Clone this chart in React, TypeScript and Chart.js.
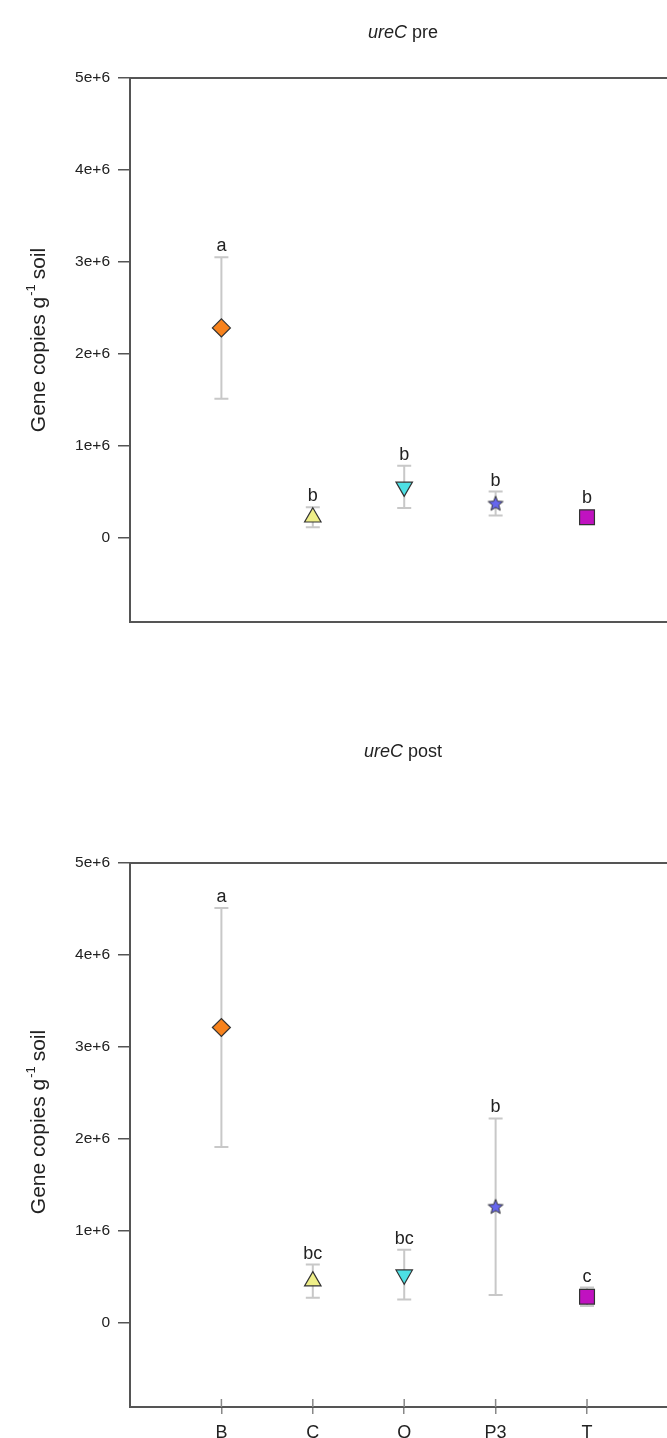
import React, { useEffect, useRef } from 'react';
import { Chart, registerables } from 'chart.js';
Chart.register(...registerables);

const categories = ['B', 'C', 'Q', 'P3', 'T'];
const preMeans = [2.28e6, 0.22e6, 0.55e6, 0.37e6, 0.22e6];
const preErrors = [0.77e6, 0.11e6, 0.23e6, 0.13e6, 0.02e6];
const preLetters = ['a', 'b', 'b', 'b', 'b'];
const postMeans = [3.21e6, 0.45e6, 0.52e6, 1.26e6, 0.28e6];
const postErrors = [1.3e6, 0.18e6, 0.27e6, 0.96e6, 0.1e6];
const postLetters = ['a', 'bc', 'bc', 'b', 'c'];
const yTickValues = [0, 1e6, 2e6, 3e6, 4e6, 5e6];
const yTickLabels = ['0', '1e+6', '2e+6', '3e+6', '4e+6', '5e+6'];
const markerStyles = ['rectRot', 'triangle', 'triangle', 'star', 'rect'];
const markerColors = ['#f7821c', '#eeee88', '#4de0e4', '#6666ee', '#c012c0'];
const markerRotations = [0, 0, 180, 0, 0];
const markerRadii = [9, 9.5, 9.5, 8, 10.5];

const FONT = '"Liberation Sans", Arial, sans-serif';
const Y_MIN = -0.92e6;
const Y_MAX = 5e6;
const X_MIN = -1;
const X_MAX = 4.875;

function makeStar(color: string) {
  const c = document.createElement('canvas');
  c.width = 18;
  c.height = 18;
  const g = c.getContext('2d')!;
  const cx = 9, cy = 9.5, ro = 7.8, ri = 3.4;
  g.beginPath();
  for (let k = 0; k < 10; k++) {
    const r = k % 2 === 0 ? ro : ri;
    const a = -Math.PI / 2 + (k * Math.PI) / 5;
    const px = cx + r * Math.cos(a);
    const py = cy + r * Math.sin(a);
    if (k === 0) g.moveTo(px, py);
    else g.lineTo(px, py);
  }
  g.closePath();
  g.fillStyle = color;
  g.fill();
  g.lineWidth = 1;
  g.strokeStyle = '#333';
  g.stroke();
  return c;
}

type PanelProps = {
  gene: string;
  phase: string;
  means: number[];
  errors: number[];
  letters: string[];
  showX: boolean;
  top: number;
  height: number;
  areaTop: number;
  areaBottom: number;
  titleY: number;
  axisTitleY: number;
};

function Panel(p: PanelProps) {
  const ref = useRef<HTMLCanvasElement>(null);
  useEffect(() => {
    const canvas = ref.current!;
    const star = makeStar(markerColors[3]);
    const styles: any[] = markerStyles.map((s) => (s === 'star' ? star : s));

    const decor = {
      id: 'decor',
      beforeDatasetsDraw(chart: any) {
        const { ctx, scales } = chart;
        const x = scales.x, y = scales.y;
        ctx.save();
        ctx.strokeStyle = '#c8c8c8';
        ctx.lineWidth = 2;
        p.means.forEach((m, i) => {
          const px = x.getPixelForValue(i);
          const yt = y.getPixelForValue(m + p.errors[i]);
          const yb = y.getPixelForValue(m - p.errors[i]);
          ctx.beginPath();
          ctx.moveTo(px, yt);
          ctx.lineTo(px, yb);
          ctx.moveTo(px - 7, yt);
          ctx.lineTo(px + 7, yt);
          ctx.moveTo(px - 7, yb);
          ctx.lineTo(px + 7, yb);
          ctx.stroke();
        });
        ctx.restore();
      },
      afterDatasetsDraw(chart: any) {
        const { ctx, scales } = chart;
        const x = scales.x, y = scales.y;
        ctx.save();
        ctx.fillStyle = '#222';
        ctx.font = `18px ${FONT}`;
        ctx.textAlign = 'center';
        ctx.textBaseline = 'alphabetic';
        p.letters.forEach((t, i) => {
          const px = x.getPixelForValue(i);
          const capTop = y.getPixelForValue(p.means[i] + p.errors[i]);
          const markTop = y.getPixelForValue(p.means[i]) - 8;
          ctx.fillText(t, px, Math.min(capTop, markTop) - 6);
        });
        ctx.restore();
      },
      afterDraw(chart: any) {
        const { ctx, chartArea, scales } = chart;
        ctx.save();
        // top frame line
        ctx.strokeStyle = '#555';
        ctx.lineWidth = 2;
        ctx.beginPath();
        ctx.moveTo(chartArea.left - 1, chartArea.top);
        ctx.lineTo(chartArea.right, chartArea.top);
        ctx.stroke();
        // inner x tick marks
        if (p.showX) {
          ctx.strokeStyle = '#888';
          ctx.lineWidth = 1.5;
          categories.forEach((_, i) => {
            const px = scales.x.getPixelForValue(i);
            ctx.beginPath();
            ctx.moveTo(px, chartArea.bottom);
            ctx.lineTo(px, chartArea.bottom - 8);
            ctx.stroke();
          });
        }
        // title
        ctx.fillStyle = '#222';
        ctx.textBaseline = 'middle';
        ctx.textAlign = 'left';
        ctx.font = `italic 18px ${FONT}`;
        const w1 = ctx.measureText(p.gene).width;
        ctx.font = `18px ${FONT}`;
        const rest = ' ' + p.phase;
        const w2 = ctx.measureText(rest).width;
        const cx = 403;
        const sx = cx - (w1 + w2) / 2;
        ctx.font = `italic 18px ${FONT}`;
        ctx.fillText(p.gene, sx, p.titleY);
        ctx.font = `18px ${FONT}`;
        ctx.fillText(rest, sx + w1, p.titleY);
        // y axis title
        ctx.translate(38, p.axisTitleY);
        ctx.rotate(-Math.PI / 2);
        const a = 'Gene copies g';
        const sup = '-1';
        const b = ' soil';
        ctx.font = `21px ${FONT}`;
        const wa = ctx.measureText(a).width;
        const wb = ctx.measureText(b).width;
        ctx.font = `13px ${FONT}`;
        const ws = ctx.measureText(sup).width;
        let tx = -(wa + ws + wb) / 2;
        ctx.textBaseline = 'alphabetic';
        ctx.font = `21px ${FONT}`;
        ctx.fillText(a, tx, 7);
        tx += wa;
        ctx.font = `13px ${FONT}`;
        ctx.fillText(sup, tx + 1, -3);
        tx += ws;
        ctx.font = `21px ${FONT}`;
        ctx.fillText(b, tx, 7);
        ctx.restore();
      },
    };

    const chart = new Chart(canvas, {
      type: 'scatter',
      data: {
        datasets: [
          {
            data: p.means.map((m, i) => ({ x: i, y: m })),
            pointStyle: styles,
            pointRotation: markerRotations,
            pointRadius: markerRadii,
            pointBackgroundColor: markerColors,
            pointBorderColor: '#333',
            pointBorderWidth: 1.2,
          } as any,
        ],
      },
      options: {
        animation: false,
        responsive: false,
        devicePixelRatio: 1,
        layout: { autoPadding: false, padding: { top: p.areaTop, left: 0, right: 0, bottom: 0 } },
        plugins: { legend: { display: false }, tooltip: { enabled: false }, title: { display: false } },
        events: [],
        scales: {
          x: {
            type: 'linear',
            min: X_MIN,
            max: X_MAX,
            afterBuildTicks: (s: any) => {
              s.ticks = categories.map((_, i) => ({ value: i }));
            },
            afterFit: (s: any) => {
              s.height = p.height - p.areaBottom;
            },
            grid: {
              display: p.showX,
              drawOnChartArea: false,
              drawTicks: true,
              tickLength: 7,
              color: '#888',
              lineWidth: 1.5,
            },
            border: { display: true, color: '#555', width: 2 },
            ticks: {
              display: p.showX,
              padding: 8,
              color: '#222',
              font: { family: FONT, size: 18 },
              callback: (v: any) => categories[v] ?? '',
              maxRotation: 0,
              autoSkip: false,
            },
          },
          y: {
            type: 'linear',
            min: Y_MIN,
            max: Y_MAX,
            afterBuildTicks: (s: any) => {
              s.ticks = yTickValues.map((v) => ({ value: v }));
            },
            afterFit: (s: any) => {
              s.width = 130;
            },
            grid: {
              display: true,
              drawOnChartArea: false,
              drawTicks: true,
              tickLength: 12,
              color: '#555',
              lineWidth: 1.5,
            },
            border: { display: true, color: '#555', width: 2 },
            ticks: {
              padding: 8,
              color: '#222',
              font: { family: FONT, size: 15.5 },
              callback: (v: any) => {
                const k = yTickValues.indexOf(v);
                return k >= 0 ? yTickLabels[k] : '';
              },
            },
          },
        },
      },
      plugins: [decor],
    });
    return () => chart.destroy();
  }, []);
  return (
    <div style={{ position: 'absolute', left: 0, top: p.top, width: 667, height: p.height }}>
      <canvas ref={ref} width={667} height={p.height} style={{ display: 'block' }} />
    </div>
  );
}

export default function App() {
  return (
    <div style={{ position: 'absolute', left: 0, top: 0, width: 667, height: 1438, overflow: 'hidden', background: '#fff' }}>
      <Panel
        gene="ureC"
        phase="pre"
        means={preMeans}
        errors={preErrors}
        letters={preLetters}
        showX={false}
        top={0}
        height={700}
        areaTop={78}
        areaBottom={622}
        titleY={33}
        axisTitleY={340}
      />
      <Panel
        gene="ureC"
        phase="post"
        means={postMeans}
        errors={postErrors}
        letters={postLetters}
        showX={true}
        top={720}
        height={718}
        areaTop={143}
        areaBottom={687}
        titleY={32}
        axisTitleY={402}
      />
    </div>
  );
}
